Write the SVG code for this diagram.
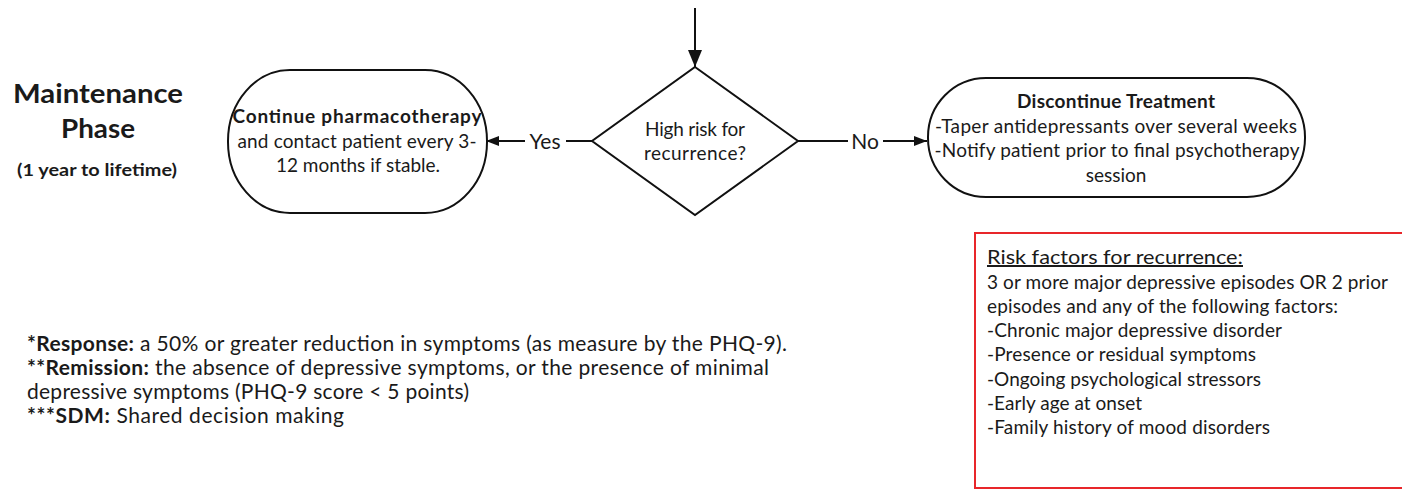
<svg xmlns="http://www.w3.org/2000/svg" width="1402" height="489" viewBox="0 0 1402 489">
<defs>
<style>
text{font-family:Lato,"Liberation Sans",sans-serif;fill:#1a1a1a}
.b{font-weight:bold}
.n{font-size:19px;text-anchor:middle}
.t{font-size:19px}
.nt{font-size:21px}
.shape{fill:#fff;stroke:#111;stroke-width:2}
.ln{stroke:#111;stroke-width:2;fill:none}
</style>
<marker id="ah" viewBox="0 0 13 10" refX="13" refY="5" markerWidth="13" markerHeight="10" markerUnits="userSpaceOnUse" orient="auto">
<path d="M0,0 L13,5 L0,10 z" fill="#111"/>
</marker>
<marker id="ahv" viewBox="0 0 17 14" refX="17" refY="7" markerWidth="17" markerHeight="14" markerUnits="userSpaceOnUse" orient="auto">
<path d="M0,0 L17,7 L0,14 z" fill="#111"/>
</marker>
</defs>
<g id="title">
<text class="b" x="98" y="103" font-size="27" text-anchor="middle" textLength="170" lengthAdjust="spacingAndGlyphs">Maintenance</text>
<text class="b" x="98" y="138" font-size="27" text-anchor="middle" textLength="74" lengthAdjust="spacingAndGlyphs">Phase</text>
<text class="b" x="97" y="176" font-size="17" text-anchor="middle" textLength="160" lengthAdjust="spacingAndGlyphs">(1 year to lifetime)</text>
</g>
<g id="connectors">
<line class="ln" x1="695" y1="8" x2="695" y2="67" marker-end="url(#ahv)"/>
<line class="ln" x1="592" y1="141" x2="566" y2="141"/>
<line class="ln" x1="525" y1="141" x2="486" y2="141" marker-end="url(#ah)"/>
<text x="545" y="149" font-size="21" text-anchor="middle">Yes</text>
<line class="ln" x1="798" y1="141" x2="848" y2="141"/>
<line class="ln" x1="883" y1="141" x2="927" y2="141" marker-end="url(#ah)"/>
<text x="865" y="149" font-size="21" text-anchor="middle">No</text>
</g>
<g id="continue">
<rect class="shape" x="228" y="70" width="259" height="143" rx="62" ry="71"/>
<text class="n b" x="357" y="123" textLength="249">Continue pharmacotherapy</text>
<text class="n" x="357" y="148" textLength="239">and contact patient every 3-</text>
<text class="n" x="358" y="172">12 months if stable.</text>
</g>
<g id="decision">
<polygon class="shape" points="695,67 798,141 695,215 592,141"/>
<text class="n" x="695" y="136" fill="#333" textLength="100">High risk for</text>
<text class="n" x="695" y="160" fill="#333" textLength="102">recurrence?</text>
</g>
<g id="discontinue">
<rect class="shape" x="928" y="78" width="377" height="119" rx="58" ry="59"/>
<text class="n b" x="1116" y="108" textLength="198">Discontinue Treatment</text>
<text class="n" x="1116" y="133" textLength="362">-Taper antidepressants over several weeks</text>
<text class="n" x="1117" y="157" textLength="365">-Notify patient prior to final psychotherapy</text>
<text class="n" x="1116" y="182">session</text>
</g>
<g id="risk-factors">
<rect x="975" y="233" width="500" height="255" fill="#fff" stroke="#e8262a" stroke-width="2"/>
<text x="987" y="264" font-size="20" text-decoration="underline" textLength="256" lengthAdjust="spacingAndGlyphs">Risk factors for recurrence:</text>
<text class="t" x="987" y="289" textLength="401">3 or more major depressive episodes OR 2 prior</text>
<text class="t" x="987" y="313" textLength="351">episodes and any of the following factors:</text>
<text class="t" x="987" y="337" textLength="295">-Chronic major depressive disorder</text>
<text class="t" x="987" y="361" textLength="269">-Presence or residual symptoms</text>
<text class="t" x="987" y="386" textLength="274">-Ongoing psychological stressors</text>
<text class="t" x="987" y="410" textLength="155">-Early age at onset</text>
<text class="t" x="987" y="434" textLength="283">-Family history of mood disorders</text>
</g>
<g id="notes">
<text class="nt" x="27" y="351" textLength="760"><tspan class="b">*Response:</tspan> a 50% or greater reduction in symptoms (as measure by the PHQ-9).</text>
<text class="nt" x="27" y="375" textLength="742"><tspan class="b">**Remission:</tspan> the absence of depressive symptoms, or the presence of minimal</text>
<text class="nt" x="27" y="399" textLength="442">depressive symptoms (PHQ-9 score &lt; 5 points)</text>
<text class="nt" x="27" y="423" textLength="317"><tspan class="b">***SDM:</tspan> Shared decision making</text>
</g>
</svg>
